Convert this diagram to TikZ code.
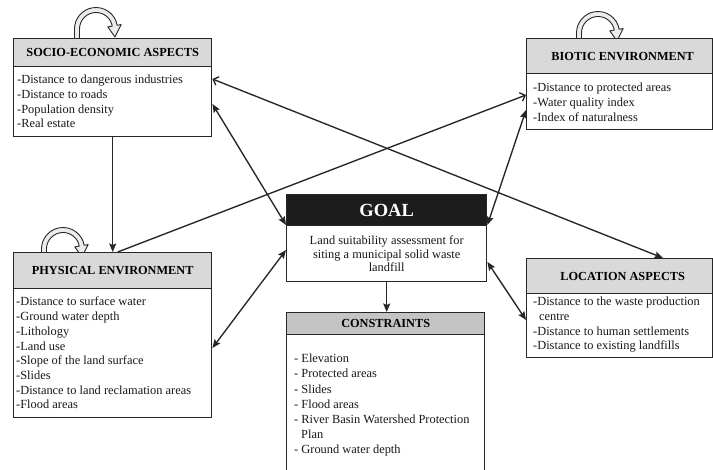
\documentclass[tikz,border=0pt]{standalone}
\usepackage{fontspec}
\setmainfont{Liberation Serif}
\usetikzlibrary{arrows.meta}
\definecolor{hdr}{HTML}{D9D9D9}
\definecolor{hdrdark}{HTML}{C4C4C4}
\definecolor{ln}{HTML}{262626}
\definecolor{goalblk}{HTML}{1C1C1C}
\begin{document}
\begin{tikzpicture}[x=1pt,y=1pt,
  box/.style={draw=ln, line width=1.4pt, rectangle, inner sep=0pt, anchor=north west},
  hdrbox/.style={box, fill=hdr, font=\fontsize{12.3}{14}\selectfont\bfseries},
  bodybox/.style={box, fill=white},
  bodytext/.style={anchor=north west, inner sep=0pt, align=left, text=black!90, font=\fontsize{12.4}{14.7}\selectfont},
  conn/.style={draw=ln, line width=1.35pt},
  tipF/.tip={Stealth[length=8.5pt,width=7pt,inset=1.5pt]},
  tipO/.tip={Straight Barb[length=4.5pt,width=9pt]},
  pics/selfloop/.style={code={
    \filldraw[draw=ln, fill=gray!15, line width=0.9pt, line join=round]
      (-16.5,-#1) -- (-16.5,0) arc[start angle=180, end angle=10, radius=16.5]
      -- (10:12) -- (19,-8) -- (10:25.5) -- (10:21.5)
      arc[start angle=10, end angle=180, radius=21.5] -- (-21.5,-#1);
  }}
]
\useasboundingbox (0,0) rectangle (713,-470);
\fill[white] (0,0) rectangle (713,-470);

% self loops
\pic at (96,-29) {selfloop=9};
\pic at (598,-33) {selfloop=5};
\pic at (63,-249) {selfloop=3};

% Socio-economic
\node[hdrbox, minimum width=198pt, minimum height=28pt] (socioH) at (13,-38) {SOCIO-ECONOMIC ASPECTS};
\node[bodybox, minimum width=198pt, minimum height=70pt] (socioB) at (13,-66) {};
\node[bodytext] (socioT) at (17,-75) {-Distance to dangerous industries\\-Distance to roads\\-Population density\\-Real estate};

% Biotic
\node[hdrbox, minimum width=186pt, minimum height=35pt] (bioH) at (526,-38) {\hspace*{6pt}BIOTIC ENVIRONMENT};
\node[bodybox, minimum width=186pt, minimum height=56pt] (bioB) at (526,-73) {};
\node[bodytext] (bioT) at (533,-83) {-Distance to protected areas\\-Water quality index\\-Index of naturalness};

% Physical
\node[hdrbox, minimum width=198pt, minimum height=36pt] (physH) at (13,-252) {PHYSICAL ENVIRONMENT};
\node[bodybox, minimum width=198pt, minimum height=129pt] (physB) at (13,-288) {};
\node[bodytext] (physT) at (16,-297) {-Distance to surface water\\-Ground water depth\\-Lithology\\-Land use\\-Slope of the land surface\\-Slides\\-Distance to land reclamation areas\\-Flood areas};

% Goal
\node[box, fill=goalblk, text=white, font=\fontsize{18.5}{20}\selectfont\bfseries, minimum width=200pt, minimum height=31pt] (goalH) at (286,-194) {GOAL};
\node[box, fill=white, align=center, text=black!90, font=\fontsize{12.4}{13.5}\selectfont, minimum width=200pt, minimum height=56pt] (goalB) at (286,-225) {Land suitability assessment for\\siting a municipal solid waste\\landfill};

% Constraints
\node[hdrbox, fill=hdrdark, minimum width=198pt, minimum height=22pt] (consH) at (286,-312) {CONSTRAINTS};
\node[bodybox, minimum width=198pt, minimum height=150pt] (consB) at (286,-334) {};
\node[bodytext, font=\fontsize{12.4}{15.1}\selectfont] (consT) at (294,-354) {- Elevation\\- Protected areas\\- Slides\\- Flood areas\\- River Basin Watershed Protection\\\hspace*{7pt}Plan\\- Ground water depth};

% Location
\node[hdrbox, minimum width=186pt, minimum height=35pt] (locH) at (526,-258) {\hspace*{6pt}LOCATION ASPECTS};
\node[bodybox, minimum width=186pt, minimum height=64pt] (locB) at (526,-293) {};
\node[bodytext] (locT) at (533,-297) {-Distance to the waste production\\\hspace*{6pt}centre\\-Distance to human settlements\\-Distance to existing landfills};

% connectors
\draw[conn,-tipF] (socioB.south) -- (physH.north);
\draw[conn,-tipO] ([xshift=5pt]physH.north) -- ([yshift=-22pt]bioB.north west);
\draw[conn,tipO-tipF] ([yshift=-13pt]socioB.north east) -- ([xshift=137pt]locH.north west);
\draw[conn,tipF-tipF] ([yshift=-38pt]socioB.north east) -- (goalB.north west);
\draw[conn,tipF-tipF] ([yshift=-37pt]bioB.north west) -- (goalB.north east);
\draw[conn,tipF-tipF] ([yshift=-60pt]physB.north east) -- ([yshift=-25pt]goalB.north west);
\draw[conn,tipF-tipF] ([yshift=-37pt]goalB.north east) -- ([yshift=-27pt]locB.north west);
\draw[conn,-tipF] (goalB.south) -- (goalB.south |- consH.north);
\end{tikzpicture}
\end{document}
